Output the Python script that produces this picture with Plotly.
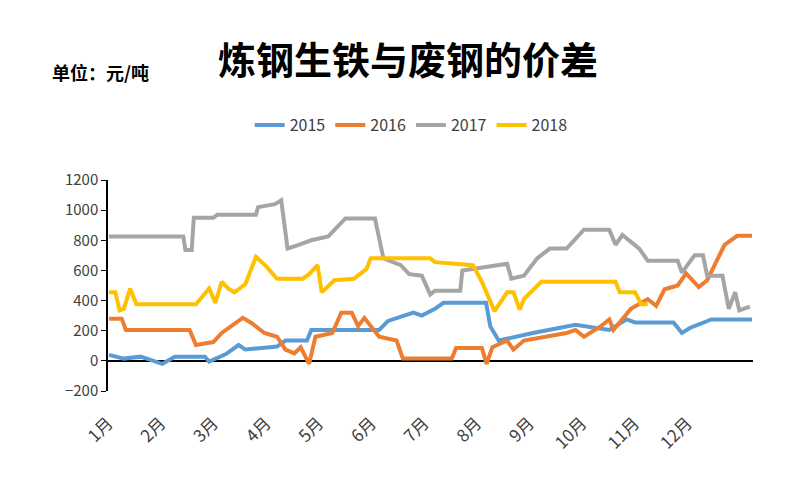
import plotly.graph_objects as go

months = ["1月","2月","3月","4月","5月","6月","7月","8月","9月","10月","11月","12月"]

x2015 = [0.02,0.30,0.62,1.03,1.27,1.84,1.92,2.24,2.48,2.61,3.21,3.37,3.78,3.86,5.15,5.32,5.80,5.96,6.21,6.37,7.18,7.26,7.42,8.07,8.88,9.12,9.52,9.85,10.01,10.74,10.90,11.06,11.46,12.23]
y2015 = [40,15,28,-20,28,28,-5,45,105,75,95,135,135,205,205,265,320,300,345,385,385,230,135,185,240,225,205,275,255,255,185,220,275,275]

x2016 = [0.02,0.26,0.34,1.55,1.67,2.0,2.16,2.40,2.56,2.73,2.97,3.21,3.37,3.54,3.66,3.82,3.94,4.26,4.43,4.63,4.75,4.87,5.15,5.48,5.60,6.53,6.61,7.10,7.19,7.30,7.58,7.70,7.90,8.71,8.88,9.04,9.36,9.52,9.60,9.93,10.25,10.41,10.57,10.82,10.98,11.22,11.38,11.71,11.95,12.23]
y2016 = [280,280,205,205,105,125,185,250,285,250,185,160,75,50,90,-20,160,185,320,320,230,285,160,135,15,15,85,85,-20,90,135,75,135,185,205,160,230,275,205,345,410,365,475,500,580,490,535,770,830,830]

x2017 = [0.02,1.43,1.47,1.59,1.63,2.0,2.08,2.81,2.85,3.17,3.29,3.41,3.62,3.86,4.18,4.34,4.51,5.07,5.23,5.56,5.72,5.96,6.12,6.21,6.69,6.73,7.26,7.58,7.66,7.90,8.15,8.39,8.71,9.04,9.52,9.64,9.77,10.09,10.25,10.82,10.90,11.14,11.30,11.38,11.67,11.79,11.91,11.99,12.19]
y2017 = [825,825,735,735,950,950,970,970,1020,1040,1065,745,770,800,825,880,945,945,680,635,575,565,440,465,465,600,625,645,545,565,680,745,745,870,870,770,835,745,665,665,585,700,700,565,565,345,455,335,360]

x2018 = [0.02,0.14,0.22,0.30,0.42,0.54,1.67,1.92,2.04,2.16,2.28,2.40,2.61,2.81,3.01,3.21,3.70,3.82,3.98,4.06,4.30,4.67,4.91,4.99,6.12,6.21,6.93,7.10,7.34,7.58,7.70,7.82,7.90,8.23,9.64,9.72,10.01,10.13,10.25]
y2018 = [455,455,335,345,480,375,375,480,385,525,480,455,510,690,625,545,545,575,635,455,535,545,610,680,680,655,635,525,330,455,455,340,410,525,525,455,455,375,375]

series = [("2015", x2015, y2015, "#5B9BD5"), ("2016", x2016, y2016, "#ED7D31"),
          ("2017", x2017, y2017, "#A5A5A5"), ("2018", x2018, y2018, "#FFC000")]

fig = go.Figure()
for name, xs, ys, c in series:
    fig.add_trace(go.Scatter(x=xs, y=ys, name=name, mode="lines", line=dict(color=c, width=4)))

fig.update_layout(
    width=800, height=500, plot_bgcolor="white", paper_bgcolor="white",
    margin=dict(l=100, r=55, t=172, b=117),
    font=dict(family="Noto Sans CJK SC, Liberation Sans", size=15, color="#404040"),
    legend=dict(orientation="h", x=0.47, xanchor="center", y=1.26, yanchor="middle",
                font=dict(size=16), traceorder="normal"),
)
fig.update_xaxes(range=[0, 12.25], tickvals=list(range(12)), ticktext=months, tickangle=-45,
                 showgrid=False, zeroline=False, showline=False, ticks="", tickfont=dict(size=17),
                 ticklabelstandoff=18)
fig.update_yaxes(range=[-200, 1200], dtick=200, showgrid=False, zeroline=True, zerolinecolor="black",
                 zerolinewidth=1.5, showline=True, linecolor="black", linewidth=1.5, ticks="outside",
                 ticklen=5, tickcolor="black", tickfont=dict(size=15))
fig.add_annotation(text="<b>炼钢生铁与废钢的价差</b>", xref="paper", yref="paper",
                   x=0.465, y=1.58, xanchor="center", yanchor="middle", showarrow=False,
                   font=dict(size=38, color="black"))
fig.add_annotation(text="<b>单位：元/吨</b>", xref="paper", yref="paper",
                   x=-0.09, y=1.51, xanchor="left", yanchor="middle", showarrow=False,
                   font=dict(size=18, color="black"))
fig.write_html("out.html")
